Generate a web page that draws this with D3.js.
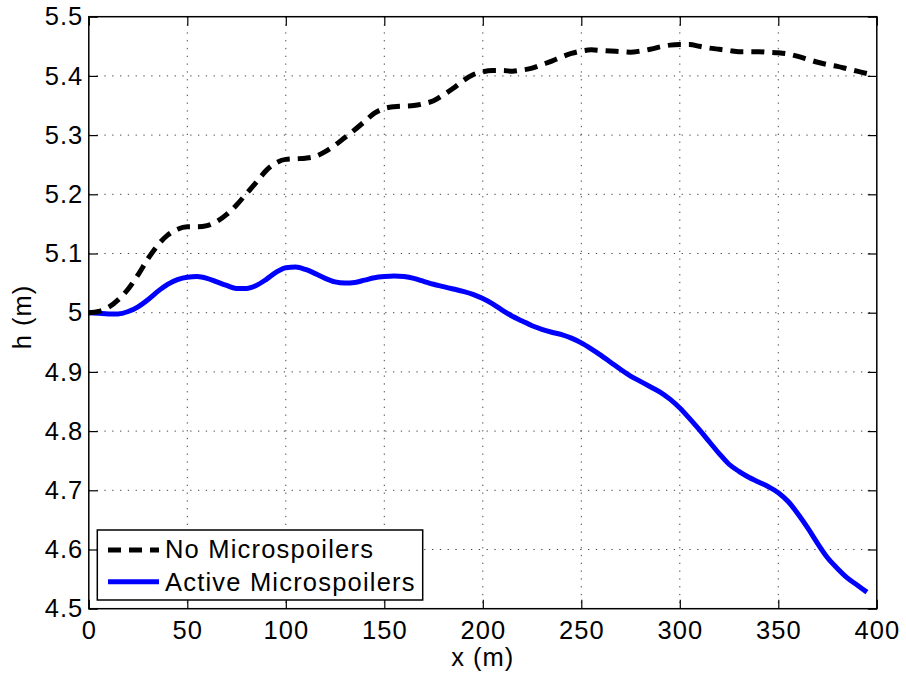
<!DOCTYPE html>
<html>
<head>
<meta charset="utf-8">
<script src="https://cdn.jsdelivr.net/npm/d3@7"></script>
<style>
html,body{margin:0;padding:0;background:#fff;}
svg{display:block;}
text{font-family:"Liberation Sans",Arial,Helvetica,sans-serif;fill:#000;}
</style>
</head>
<body>
<svg id="chart" width="906" height="675"></svg>
<script>
const xValues = [0,5,10,15,20,25,30,35,40,45,50,55,60,65,70,75,80,85,90,95,100,105,110,115,120,125,130,135,140,145,150,155,160,165,170,175,180,185,190,195,200,205,210,215,220,225,230,235,240,245,250,255,260,265,270,275,280,285,290,295,300,305,310,315,320,325,330,335,340,345,350,355,360,365,370,375,380,385,390,395];
const noMicrospoilers = [5.000,5.002,5.009,5.022,5.040,5.064,5.091,5.114,5.131,5.141,5.145,5.145,5.147,5.154,5.166,5.182,5.201,5.220,5.240,5.253,5.259,5.260,5.261,5.264,5.272,5.283,5.296,5.309,5.323,5.337,5.345,5.348,5.349,5.350,5.353,5.358,5.368,5.379,5.392,5.402,5.407,5.409,5.409,5.408,5.410,5.413,5.419,5.425,5.432,5.438,5.442,5.444,5.443,5.442,5.441,5.440,5.442,5.445,5.449,5.452,5.453,5.453,5.450,5.447,5.445,5.443,5.441,5.441,5.441,5.440,5.439,5.437,5.433,5.428,5.423,5.419,5.416,5.412,5.408,5.404];
const activeMicrospoilers = [5.000,4.999,4.998,4.998,5.002,5.010,5.022,5.036,5.048,5.056,5.060,5.061,5.058,5.052,5.046,5.041,5.041,5.046,5.056,5.068,5.076,5.077,5.073,5.066,5.058,5.052,5.050,5.051,5.055,5.059,5.061,5.062,5.061,5.058,5.053,5.048,5.044,5.040,5.036,5.031,5.024,5.015,5.004,4.994,4.986,4.978,4.972,4.967,4.963,4.957,4.949,4.939,4.928,4.916,4.904,4.893,4.884,4.875,4.866,4.854,4.839,4.821,4.802,4.782,4.762,4.744,4.732,4.722,4.714,4.706,4.696,4.681,4.660,4.636,4.610,4.586,4.568,4.552,4.540,4.528];
const xTicks = [0,50,100,150,200,250,300,350,400];
const yTicks = [4.5,4.6,4.7,4.8,4.9,5,5.1,5.2,5.3,5.4,5.5];
const seriesNames = ["No Microspoilers","Active Microspoilers"];
const xLabel = "x (m)";
const yLabel = "h (m)";

const svg = d3.select("#chart");
const L = 88.8, R = 876.8, T = 16.7, B = 608.7;
const fs = 25.5;

const x = d3.scaleLinear().domain([0,400]).range([L,R]);
const y = d3.scaleLinear().domain([4.5,5.5]).range([B,T]);

// grid
const grid = svg.append("g");
grid.selectAll("line.gx").data(xTicks.slice(1,-1)).enter().append("line")
  .attr("x1",d=>x(d)).attr("x2",d=>x(d)).attr("y1",T).attr("y2",B)
  .attr("stroke","#444").attr("stroke-width",1).attr("stroke-dasharray","1.3,6.5");
grid.selectAll("line.gy").data(yTicks.slice(1,-1)).enter().append("line")
  .attr("y1",d=>y(d)).attr("y2",d=>y(d)).attr("x1",L).attr("x2",R)
  .attr("stroke","#444").attr("stroke-width",1).attr("stroke-dasharray","1.3,6.5");

// lines
const line = d3.line().x(d=>x(d[0])).y(d=>y(d[1])).curve(d3.curveMonotoneX);
const d1 = xValues.map((v,i)=>[v,noMicrospoilers[i]]);
const d2 = xValues.map((v,i)=>[v,activeMicrospoilers[i]]);
svg.append("path").attr("d",line(d2)).attr("fill","none").attr("stroke","#0000ff").attr("stroke-width",5);
svg.append("path").attr("d",line(d1)).attr("fill","none").attr("stroke","#000").attr("stroke-width",5).attr("stroke-dasharray","13,8");

// axes (inside ticks)
const tl = 9;
const xb = d3.axisBottom(x).tickValues(xTicks).tickSize(-tl).tickPadding(12).tickFormat(d3.format("d"));
const xt = d3.axisTop(x).tickValues(xTicks).tickSize(-tl).tickFormat("");
const yl = d3.axisLeft(y).tickValues(yTicks).tickSize(-tl).tickPadding(5.5).tickFormat(d=>d3.format("")(d));
const yr = d3.axisRight(y).tickValues(yTicks).tickSize(-tl).tickFormat("");
function style(g, anchorEnd){
  g.select(".domain").remove();
  g.selectAll(".tick line").attr("stroke","#000").attr("stroke-width",1.2);
  g.selectAll(".tick text").attr("font-size",fs).attr("font-family","'Liberation Sans',Arial,sans-serif")
    .attr("fill","#000").attr("letter-spacing","1px");
}
svg.append("g").attr("transform",`translate(0,${B})`).call(xb).call(style);
svg.append("g").attr("transform",`translate(0,${T})`).call(xt).call(style);
svg.append("g").attr("transform",`translate(${L},0)`).call(yl).call(style);
svg.append("g").attr("transform",`translate(${R},0)`).call(yr).call(style);

svg.append("rect").attr("x",L).attr("y",T).attr("width",R-L).attr("height",B-T)
  .attr("fill","none").attr("stroke","#000").attr("stroke-width",1.5);

// axis labels
svg.append("text").attr("x",(L+R)/2).attr("y",666).attr("text-anchor","middle").attr("font-size",fs).attr("letter-spacing","1px").text(xLabel);
svg.append("text").attr("transform",`translate(31,317) rotate(-90)`).attr("text-anchor","middle").attr("font-size",fs).attr("letter-spacing","1px").text(yLabel);

// legend
const lg = svg.append("g");
lg.append("rect").attr("x",97.3).attr("y",530).attr("width",325.4).attr("height",70)
  .attr("fill","#fff").attr("stroke","#000").attr("stroke-width",1.5);
const rows = [{name:seriesNames[0],color:"#000",dash:"13,8",ly:550,by:558.3},{name:seriesNames[1],color:"#0000ff",dash:null,ly:581.7,by:590.7}];
rows.forEach(r=>{
  const ln = lg.append("line").attr("x1",108).attr("x2",159).attr("y1",r.ly).attr("y2",r.ly)
    .attr("stroke",r.color).attr("stroke-width",5);
  if(r.dash) ln.attr("stroke-dasharray",r.dash);
  lg.append("text").attr("x",165).attr("y",r.by).attr("font-size",fs).attr("letter-spacing","1.2px").text(r.name);
});
</script>
</body>
</html>
